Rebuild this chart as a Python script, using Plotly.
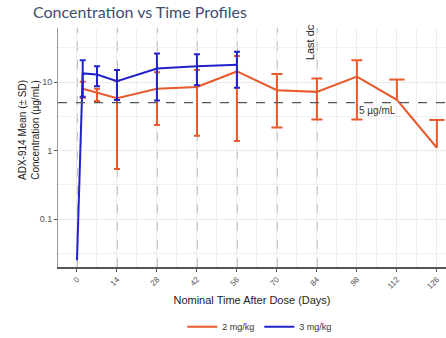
import plotly.graph_objects as go
import math

# ---- data ----
days_2 = [2, 7, 14, 28, 42, 56, 70, 84, 98, 112, 126]
mean_2 = [8.0, 7.0, 5.8, 8.0, 8.5, 14.3, 7.6, 7.2, 12.0, 5.5, 1.1]
upper_2 = [10.1, 8.0, 10.5, 13.9, 15.0, 24.0, 13.1, 11.3, 20.9, 10.9, 2.8]
lower_2 = [5.9, 5.3, 0.54, 2.36, 1.64, 1.38, 2.18, 2.85, 2.85, None, None]

days_3 = [0, 2, 7, 14, 28, 42, 56]
mean_3 = [0.025, 13.4, 12.9, 10.3, 15.8, 17.1, 17.9]
upper_3 = [None, 20.9, 17.1, 15.0, 26.2, 25.6, 27.7]
lower_3 = [None, 6.1, 8.7, 5.5, 5.4, 9.0, 8.25]

dose_days = [0, 14, 28, 42, 56, 70, 84]
x_ticks = [0, 14, 28, 42, 56, 70, 84, 98, 112, 126]
y_ticks = [0.1, 1, 10]
y_minor = [0.0316, 0.316, 3.16, 31.6]
threshold = 5
last_dose_day = 81.6

ORANGE = "#E85A2C"
BLUE = "#2222CC"

fig = go.Figure()


def add_series(days, mean, upper, lower, color, name, widths):
    fig.add_trace(go.Scatter(x=days, y=mean, mode="lines", name=name,
                             line=dict(color=color, width=2), showlegend=True))
    for grp_w, sel in widths:
        xs, ys, up, dn = [], [], [], []
        for d, m, u, l in zip(days, mean, upper, lower):
            if u is not None and l is not None and sel(d):
                xs.append(d); ys.append(m); up.append(u - m); dn.append(m - l)
        if xs:
            fig.add_trace(go.Scatter(
                x=xs, y=ys, mode="markers", showlegend=False, hoverinfo="skip",
                marker=dict(size=1, color="rgba(0,0,0,0)"),
                error_y=dict(type="data", symmetric=False, array=up, arrayminus=dn,
                             color=color, thickness=2, width=grp_w)))
    vx, vy, cx, cy = [], [], [], []
    for d, m, u, l in zip(days, mean, upper, lower):
        if u is not None and l is None:
            vx += [d, d, None]; vy += [m, u, None]
            cx.append(d); cy.append(u)
    if vx:
        fig.add_trace(go.Scatter(x=vx, y=vy, mode="lines", showlegend=False,
                                 hoverinfo="skip", line=dict(color=color, width=2)))
        fig.add_trace(go.Scatter(x=cx, y=cy, mode="markers", showlegend=False,
                                 hoverinfo="skip",
                                 marker=dict(symbol="line-ew", size=11,
                                             line=dict(color=color, width=2))))


add_series(days_2, mean_2, upper_2, lower_2, ORANGE, "2 mg/kg",
           [(3, lambda d: d <= 56), (5.5, lambda d: d > 56)])
add_series(days_3, mean_3, upper_3, lower_3, BLUE, "3 mg/kg",
           [(3, lambda d: True)])

for d in dose_days:
    fig.add_shape(type="line", xref="x", yref="paper", x0=d, x1=d, y0=0, y1=1,
                  line=dict(color="#A9B2B2", width=1.5, dash="dash"), layer="below")
fig.add_shape(type="line", xref="paper", yref="y", x0=0, x1=1, y0=threshold, y1=threshold,
              line=dict(color="#555555", width=1.2, dash="dash"), layer="above")

fig.add_annotation(x=98, y=math.log10(threshold), xref="x", yref="y", text="5 µg/mL",
                   showarrow=False, xanchor="left", yanchor="top", xshift=0,
                   font=dict(family="Liberation Sans, Arial", size=10, color="#333333"))
fig.add_annotation(x=last_dose_day, y=1.584, xref="x", yref="y", text="Last dc",
                   showarrow=False, textangle=-90, xanchor="center", yanchor="middle",
                   font=dict(family="Liberation Sans, Arial", size=11, color="#222222"))
fig.add_annotation(x=-0.075, y=0.573, xref="paper", yref="paper",
                   text="ADX-914 Mean (± SD)<br>Concentration (µg/mL)",
                   showarrow=False, textangle=-90, xanchor="center", yanchor="middle",
                   font=dict(family="Liberation Sans, Arial", size=10, color="#222222"))

fig.update_layout(
    width=446, height=338,
    margin=dict(l=58, r=0, t=28, b=71, autoexpand=False),
    paper_bgcolor="white", plot_bgcolor="white",
    title=dict(text="Concentration vs Time Profiles", xref="container", x=0.074,
               xanchor="left", yref="container", y=0.964, yanchor="middle",
               font=dict(family="Lato", size=16, color="#3E4E70")),
    showlegend=True,
    legend=dict(orientation="h", x=0.52, xanchor="center", y=-0.25, yanchor="middle",
                font=dict(family="Liberation Sans, Arial", size=9, color="#333333"),
                itemwidth=30, tracegroupgap=0),
    xaxis=dict(range=[-6.65, 129.2], tickvals=x_ticks, tickangle=-45, automargin=False,
               showgrid=True, gridcolor="#EBEBEB", gridwidth=1,
               minor=dict(dtick=7, tick0=0, showgrid=True, gridcolor="#F0F0F0"),
               showline=True, linecolor="#555555", linewidth=1.5,
               ticks="outside", ticklen=3, tickcolor="#555555",
               tickfont=dict(family="Liberation Sans, Arial", size=8, color="#555555"),
               title=dict(text="Nominal Time After Dose (Days)", standoff=6,
                          font=dict(family="Liberation Sans, Arial", size=11, color="#222222")),
               zeroline=False),
    yaxis=dict(type="log", range=[-1.70, 1.79], tickvals=y_ticks, automargin=False,
               ticktext=[str(v) for v in y_ticks],
               showgrid=True, gridcolor="#EBEBEB", gridwidth=1,
               minor=dict(tickvals=y_minor, showgrid=True, gridcolor="#F0F0F0", ticks=""),
               showline=True, linecolor="#999999", linewidth=1,
               ticks="outside", ticklen=3, tickcolor="#555555",
               tickfont=dict(family="Liberation Sans, Arial", size=9, color="#555555"),
               zeroline=False),
)

fig.write_html("out.html", config={"displayModeBar": False},
               post_script="document.body.style.margin='0';document.body.style.overflow='hidden';")
